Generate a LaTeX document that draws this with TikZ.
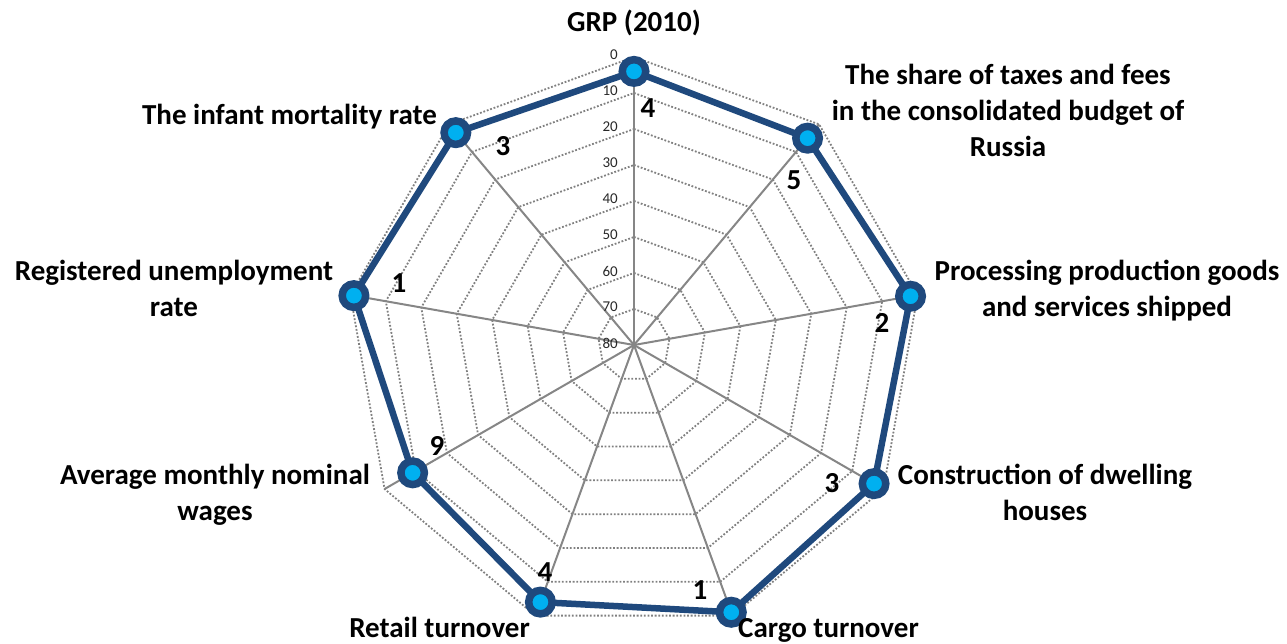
\documentclass[tikz,border=0pt]{standalone}
\usepackage{fontspec}
\setmainfont{Carlito}
\definecolor{serieblue}{RGB}{31,73,125}
\definecolor{markerblue}{RGB}{0,176,240}
\definecolor{gridgray}{RGB}{128,128,128}
\definecolor{spokegray}{RGB}{134,134,134}
\definecolor{ticktext}{RGB}{40,40,40}
\pgfdeclarelayer{bg}
\pgfsetlayers{bg,main}
\begin{document}
\begin{tikzpicture}[x=1pt,y=-1pt,
  ring/.style={draw=gridgray, line width=1.8pt, dash pattern=on 1.8pt off 1.8pt},
  spoke/.style={draw=spokegray, line width=2pt},
  series/.style={draw=serieblue, line width=6.5pt, line join=round},
  marker/.style={circle, draw=serieblue, fill=markerblue, line width=7.5pt, minimum size=23.5pt, inner sep=0pt},
  catlabel/.style={font=\fontsize{29}{36}\selectfont\bfseries, align=center, inner sep=0pt, execute at begin node=\strut},
  vallabel/.style={font=\fontsize{29}{36}\selectfont\bfseries, inner sep=0pt},
  ticklabel/.style={font=\fontsize{15}{18}\selectfont, text=ticktext, inner sep=0pt, anchor=east}
]
\useasboundingbox (0,0) rectangle (1287,643);
\coordinate (O) at (634,345);
\foreach \k in {0,...,8}
  \coordinate (a\k) at ({634+288*sin(40*\k)},{345-288*cos(40*\k)});
\begin{pgfonlayer}{bg}
  % grid rings
  \foreach \v in {0,10,...,70}{
    \pgfmathsetmacro\rr{3.6*(80-\v)}
    \draw[ring] ({634},{345-\rr})
      \foreach \a in {40,80,...,320}{ -- ({634+\rr*sin(\a)},{345-\rr*cos(\a)}) } -- cycle;
  }
  % spokes
  \foreach \k in {0,...,8} \draw[spoke] (O) -- (a\k);
  % series coordinates
  \foreach \k/\v in {0/4,1/5,2/2,3/3,4/1,5/4,6/9,7/1,8/3}
    \coordinate (p\k) at ({634+3.6*(80-\v)*sin(40*\k)},{345-3.6*(80-\v)*cos(40*\k)});
  \draw[series] (p0) -- (p1) -- (p2) -- (p3) -- (p4) -- (p5) -- (p6) -- (p7) -- (p8) -- cycle;
\end{pgfonlayer}
% tick labels
\foreach \v in {0,10,...,80}
  \node[ticklabel] (t\v) at ({618},{343-3.6*(80-\v)}) {\v};
% markers
\foreach \k in {0,...,8} \node[marker] (m\k) at (p\k) {};
% value labels
\node[vallabel] (v0) at (648,108) {4};
\node[vallabel] (v1) at (794,180) {5};
\node[vallabel] (v2) at (882,323) {2};
\node[vallabel] (v3) at (832,483) {3};
\node[vallabel] (v4) at (700,590) {1};
\node[vallabel] (v5) at (545,572) {4};
\node[vallabel] (v6) at (437,446) {9};
\node[vallabel] (v7) at (399,283) {1};
\node[vallabel] (v8) at (503,146) {3};
% category labels
\node[catlabel, anchor=north] (c0) at (634,5.8) {GRP (2010)};
\node[catlabel, anchor=north] (c1) at (1008,63.8) {The share of taxes and fees\\in the consolidated budget of\\Russia};
\node[catlabel, anchor=north] (c2) at (1107,259.8) {Processing production goods\\and services shipped};
\node[catlabel, anchor=north] (c3) at (1045,463.8) {Construction of dwelling\\houses};
\node[catlabel, anchor=north west] (c4) at (738,611.8) {Cargo turnover};
\node[catlabel, anchor=north east] (c5) at (530,611.8) {Retail turnover};
\node[catlabel, anchor=north] (c6) at (215,463.8) {Average monthly nominal\\wages};
\node[catlabel, anchor=north] (c7) at (174,259.8) {Registered unemployment\\rate};
\node[catlabel, anchor=north east] (c8) at (437,98.8) {The infant mortality rate};
\end{tikzpicture}
\end{document}
